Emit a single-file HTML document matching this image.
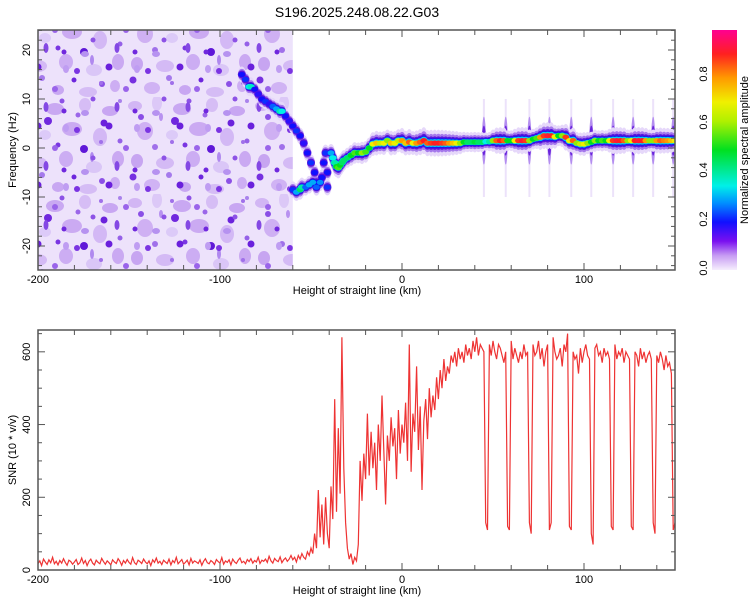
<!DOCTYPE html>
<html><head><meta charset="utf-8"><style>
body{margin:0;background:#fff;}
svg{display:block;font-family:"Liberation Sans",sans-serif;}
</style></head><body>
<svg id="chart" width="750" height="600" viewBox="0 0 750 600" xmlns="http://www.w3.org/2000/svg">
<defs>
<linearGradient id="cbar" x1="0" y1="1" x2="0" y2="0">
<stop offset="0" stop-color="#f6eefd"/><stop offset="0.06" stop-color="#c79cf3"/><stop offset="0.12" stop-color="#7a10f0"/>
<stop offset="0.2" stop-color="#1010ff"/><stop offset="0.28" stop-color="#0090ff"/><stop offset="0.35" stop-color="#00f0e8"/>
<stop offset="0.5" stop-color="#00e020"/><stop offset="0.62" stop-color="#b0f000"/><stop offset="0.7" stop-color="#f0f000"/>
<stop offset="0.8" stop-color="#ff9a00"/><stop offset="0.9" stop-color="#ff2020"/><stop offset="1" stop-color="#ff0090"/>
</linearGradient>
<pattern id="noise" width="127" height="97" patternUnits="userSpaceOnUse">
<rect width="127" height="97" fill="#ede2fb"/>
<ellipse cx="8" cy="9" rx="7" ry="5" fill="#d2b6f4"/><ellipse cx="30" cy="6" rx="5" ry="8" fill="#dcc8f7"/>
<ellipse cx="55" cy="12" rx="9" ry="6" fill="#c9a8f2"/><ellipse cx="85" cy="8" rx="6" ry="7" fill="#d6bdf5"/>
<ellipse cx="110" cy="14" rx="8" ry="5" fill="#c8a6f2"/><ellipse cx="18" cy="34" rx="8" ry="9" fill="#cfb0f3"/>
<ellipse cx="45" cy="38" rx="6" ry="5" fill="#dccaf8"/><ellipse cx="72" cy="32" rx="10" ry="7" fill="#cbaaf2"/>
<ellipse cx="100" cy="40" rx="7" ry="9" fill="#d3b8f5"/><ellipse cx="10" cy="64" rx="6" ry="7" fill="#c7a5f1"/>
<ellipse cx="38" cy="66" rx="9" ry="6" fill="#d4baf5"/><ellipse cx="66" cy="62" rx="7" ry="8" fill="#ccadf3"/>
<ellipse cx="94" cy="70" rx="8" ry="6" fill="#dac6f7"/><ellipse cx="118" cy="62" rx="6" ry="8" fill="#caa9f2"/>
<ellipse cx="25" cy="88" rx="8" ry="6" fill="#d0b3f4"/><ellipse cx="58" cy="90" rx="6" ry="5" fill="#c8a7f2"/>
<ellipse cx="88" cy="92" rx="9" ry="5" fill="#d5bcf5"/><ellipse cx="115" cy="86" rx="5" ry="6" fill="#cdaef3"/>
<circle cx="14" cy="20" r="3" fill="#8a4ee6"/><circle cx="48" cy="24" r="4" fill="#7028de"/>
<circle cx="78" cy="18" r="2.5" fill="#9b66e9"/><circle cx="104" cy="26" r="3.5" fill="#6b22dc"/>
<circle cx="28" cy="50" r="3" fill="#a070ea"/><circle cx="58" cy="48" r="2.5" fill="#7a36e2"/>
<circle cx="84" cy="52" r="4" fill="#5f18d8"/><circle cx="120" cy="44" r="2.5" fill="#9560e8"/>
<circle cx="6" cy="80" r="3.5" fill="#7630e0"/><circle cx="42" cy="78" r="3" fill="#a57aec"/>
<circle cx="74" cy="80" r="2.5" fill="#6d26dd"/><circle cx="102" cy="84" r="3" fill="#8c50e6"/>
<circle cx="62" cy="4" r="2.5" fill="#8d52e6"/><circle cx="120" cy="4" r="2" fill="#a982ec"/>
<ellipse cx="34" cy="20" rx="2" ry="4" fill="#b892f0"/><ellipse cx="92" cy="60" rx="2" ry="5" fill="#b089ef"/>
</pattern>
<pattern id="noise2" width="71" height="59" patternUnits="userSpaceOnUse">
<circle cx="6" cy="12" r="3" fill="#7b34e2"/><circle cx="22" cy="40" r="2.5" fill="#8d52e6"/>
<circle cx="38" cy="8" r="3.5" fill="#6a20dc"/><circle cx="55" cy="30" r="3" fill="#9a64ea"/>
<circle cx="64" cy="52" r="2.5" fill="#7028de"/><circle cx="30" cy="24" r="2" fill="#a070ea"/>
<ellipse cx="46" cy="48" rx="2.5" ry="5" fill="#8448e4"/><ellipse cx="14" cy="54" rx="4" ry="3" fill="#b692f0"/>
<ellipse cx="66" cy="10" rx="3" ry="4" fill="#bf9df2"/>
</pattern>
</defs>
<text x="357" y="17" font-size="14" text-anchor="middle" fill="#000">S196.2025.248.08.22.G03</text>

<g id="top"></g>
<g id="bottom"></g>

<g>
<rect x="712" y="30" width="25" height="240" fill="url(#cbar)"/>
<text transform="translate(707,268) rotate(-90)" font-size="11" text-anchor="middle">0.0</text>
<text transform="translate(707,219) rotate(-90)" font-size="11" text-anchor="middle">0.2</text>
<text transform="translate(707,170) rotate(-90)" font-size="11" text-anchor="middle">0.4</text>
<text transform="translate(707,122) rotate(-90)" font-size="11" text-anchor="middle">0.6</text>
<text transform="translate(707,74) rotate(-90)" font-size="11" text-anchor="middle">0.8</text>
<text transform="translate(748,150) rotate(-90)" font-size="11" text-anchor="middle">Normalized spectral amplitude</text>
</g>
</svg>
<script>
// ---- spectrogram data ----
const trackKm = [-88,-86,-84,-83,-81,-79,-77,-75,-73,-71,-69,-67,-66,-64,-62,-60,-58,-56,-54,-52,-50,-48,-47,
 -60,-58,-56,-55,-53,-51,-49,-47,-45,-44,-43,-42,-41,-41,
 -39,-38,-37,-36,-35,-34,-33,-32,-30,-28,-26,-24,-22,-20,-18,-16,-14,-12,-10,-8,-6,-4,-2,0,2,4,6,8,10,12,14,16,18,20,22,24,26,28,30,32,34,36,38,40,42,44,46,48,50,52,54,56,58,60,62,64,66,68,70,72,74,76,78,80,82,84,86,88,90,92,94,96,98,100,102,104,106,108,110,112,114,116,118,120,122,124,126,128,130,132,134,136,138,140,142,144,146,148,150];
const trackFreq = [15,14,12.5,12.5,12,11,10,9.5,9,8.5,8,7.5,7.5,6.5,5.5,4.5,3.5,2.5,1,-1,-3,-5,-7,
 -8.5,-9,-8.5,-8,-8,-7.5,-7,-8,-7,-6,-3,-1,-5,-8,
 -1,-2,-3,-3.8,-4,-3.5,-3,-2.5,-2,-1.5,-1,-1,-1,-0.8,0,0.8,1,1,1,1.5,1,1,1.5,1.5,1,1.2,1,1,1.2,1.5,1,1,1,1,1,1,1,1,1,1,1.2,1.2,1.2,1.2,1.2,1.2,1.3,1.3,1.5,1.5,1.5,1.5,1.5,1.5,1.5,1.5,1.5,1.5,1.5,1.8,2,2.2,2.5,2.5,2.5,2.3,2.5,2.5,2.2,1.5,1.5,1,0.8,0.8,1,1.2,1.5,1.5,1.5,1.5,1.5,1.5,1.5,1.5,1.5,1.5,1.5,1.5,1.5,1.5,1.5,1.5,1.5,1.5,1.5,1.5,1.5,1.5,1.5,1.5];
const trackAmp = [0.2,0.22,0.35,0.38,0.2,0.18,0.2,0.22,0.18,0.25,0.3,0.4,0.35,0.2,0.18,0.2,0.22,0.2,0.18,0.2,0.22,0.2,0.2,
 0.22,0.3,0.45,0.4,0.25,0.3,0.3,0.25,0.28,0.2,0.2,0.22,0.2,0.22,
 0.3,0.35,0.4,0.5,0.55,0.5,0.45,0.45,0.45,0.5,0.55,0.5,0.6,0.55,0.5,0.7,0.75,0.65,0.7,0.6,0.75,0.7,0.65,0.8,0.75,0.85,0.7,0.8,0.85,0.9,0.85,0.88,0.9,0.9,0.88,0.85,0.8,0.75,0.7,0.6,0.5,0.45,0.45,0.48,0.45,0.45,0.35,0.4,0.6,0.85,0.9,0.85,0.5,0.5,0.7,0.88,0.92,0.88,0.6,0.5,0.55,0.8,0.88,0.92,0.9,0.7,0.5,0.6,0.88,0.7,0.85,0.6,0.65,0.7,0.6,0.5,0.6,0.5,0.55,0.5,0.7,0.88,0.92,0.9,0.85,0.6,0.7,0.9,0.92,0.9,0.8,0.6,0.6,0.8,0.85,0.82,0.8,0.75,0.7];
const streakKm = [45,57,70,81,93,104,116,127,138,149];
const noiseEndKm = -60;
const xTickLabels = [-200,-100,0,100];
const freqTickLabels = [-20,-10,0,10,20];
// ---- SNR data (1 km steps from -200 to 150) ----
const snrStartKm = -200;
const snrValues = [
18,25,12,30,22,15,28,20,35,17,24,14,26,19,31,21,13,27,23,16,
22,29,15,20,33,18,26,12,24,30,19,14,27,21,17,32,23,16,25,20,
14,28,22,18,31,24,13,26,19,29,21,16,34,20,15,27,23,18,30,22,
17,25,12,28,21,33,19,24,15,27,22,18,30,14,26,20,35,17,23,29,
16,21,27,14,32,19,25,22,18,28,13,24,31,20,17,26,22,15,29,23,
19,34,16,25,21,28,14,30,22,18,27,33,20,24,17,29,23,31,19,26,
22,35,18,27,24,30,21,38,25,19,32,26,23,36,20,28,33,24,30,40,
28,35,22,40,30,45,35,30,50,40,60,45,100,60,220,90,180,70,200,100,60,230,140,470,160,390,210,640,280,130,
60,30,45,15,35,25,70,
300,190,320,250,430,260,380,280,350,220,400,300,480,330,
180,370,300,420,340,390,250,440,320,400,
350,460,300,620,270,430,380,560,330,450,220,410,470,360,500,420,480,440,530,470,
550,500,580,520,560,540,590,570,600,560,610,580,600,570,620,590,610,580,630,600,640,590,620,610,
600,130,110,620,590,630,600,580,620,610,590,570,600,120,110,630,580,610,590,570,600,580,620,590,600,130,100,620,590,600,630,580,610,560,600,620,110,130,640,600,580,590,610,560,620,600,650,120,110,600,580,590,540,610,570,600,620,590,580,100,70,610,620,590,600,570,610,590,600,580,120,110,620,580,600,590,610,570,600,590,580,120,110,600,590,560,610,580,600,570,590,600,580,130,100,590,570,600,580,550,590,560,570,540,110,130];
const snrTickLabels = [0,200,400,600];

const NS='http://www.w3.org/2000/svg';
function mk(tag, attrs, parent){const e=document.createElementNS(NS,tag);for(const k in attrs)e.setAttribute(k,attrs[k]);parent.appendChild(e);return e;}
const L=38,R=675;
const xs = km => L + (km+200)/350*(R-L);
const T1=30,B1=270, fy = f => 148 - f*4.9;
const T2=330,B2=570, sy = v => B2 - v/660*(B2-T2);

function cmap(a){
  const st=[[0,[246,238,253]],[0.06,[199,156,243]],[0.12,[122,16,240]],[0.2,[16,16,255]],[0.28,[0,144,255]],[0.35,[0,240,232]],[0.5,[0,224,32]],[0.62,[176,240,0]],[0.7,[240,240,0]],[0.8,[255,154,0]],[0.9,[255,32,32]],[1,[255,0,144]]];
  for(let i=1;i<st.length;i++){if(a<=st[i][0]){const t=(a-st[i-1][0])/(st[i][0]-st[i-1][0]);const c=st[i-1][1].map((v,j)=>Math.round(v+(st[i][1][j]-v)*t));return 'rgb('+c.join(',')+')';}}
  return 'rgb(255,0,144)';
}

// ---- Top panel ----
const topG=document.getElementById('top');
const clip=mk('clipPath',{id:'c1'},topG); mk('rect',{x:L,y:T1,width:R-L,height:B1-T1},clip);
const tg=mk('g',{'clip-path':'url(#c1)'},topG);
const noise=mk('rect',{x:L,y:T1,width:xs(noiseEndKm)-L,height:B1-T1,fill:'url(#noise)'},tg);


const noise2=mk('rect',{x:L,y:T1,width:xs(noiseEndKm)-L,height:B1-T1,fill:'url(#noise2)'},tg);


streakKm.forEach(k=>{
  const s1=mk('rect',{x:xs(k)-1,y:fy(10),width:2,height:fy(-10)-fy(10),fill:'#ece2fa'},tg);
  
  
  const s2=mk('ellipse',{cx:xs(k),cy:fy(1.5),rx:2,ry:24,fill:'#b48ef0'},tg);
  
  
  const s3=mk('ellipse',{cx:xs(k),cy:fy(1.5),rx:2,ry:15,fill:'#6a24dc'},tg);
  
  
});
const passes=[[13,0,'#e6d8fa'],[9,0,'#a578ec'],[6.5,0,'#5a14dc'],[5,0.25,'#1818f0'],[3.8,0.35,'#00d0f0']];
passes.forEach(p=>{
  trackKm.forEach((k,i)=>{
    if(trackAmp[i]<p[1])return;
    const ry=p[0]*(0.5+trackAmp[i]*0.6);
    const e=mk('ellipse',{cx:xs(k),cy:fy(trackFreq[i]),rx:4,ry:ry,fill:p[2]},tg);
    
    
  });
});
trackKm.forEach((k,i)=>{
  const e=mk('ellipse',{cx:xs(k),cy:fy(trackFreq[i]),rx:3.4,ry:2.6,fill:cmap(trackAmp[i])},tg);
  
  
});
function frame(T,B,g,name){
  const f=mk('rect',{x:L,y:T,width:R-L,height:B-T,fill:'none',stroke:'#555','stroke-width':1.5},g);
  
  
  for(let k=-200;k<=150;k+=20){
    const len=(k%100===0)?7:5;
    mk('line',{x1:xs(k),x2:xs(k),y1:B,y2:B-len,stroke:'#555'},g);
    mk('line',{x1:xs(k),x2:xs(k),y1:T,y2:T+len,stroke:'#555'},g);
  }
}
frame(T1,B1,topG,'spectrogram-frame');
for(let f=-24;f<=24;f+=2){
  const len=(f%10===0)?7:4;
  mk('line',{x1:L,x2:L+len,y1:fy(f),y2:fy(f),stroke:'#555'},topG);
  mk('line',{x1:R,x2:R-len,y1:fy(f),y2:fy(f),stroke:'#555'},topG);
}
freqTickLabels.forEach(f=>{
  const t=mk('text',{transform:'translate(30,'+fy(f)+') rotate(-90)','font-size':11,'text-anchor':'middle'},topG);
  t.textContent=f;
  
  
});
function xlabels(B,g){
  xTickLabels.forEach(k=>{
    const t=mk('text',{x:xs(k),y:B+13,'font-size':11,'text-anchor':'middle'},g);
    t.textContent=k;
    
    
  });
  const xt=mk('text',{x:357,y:B+24,'font-size':11,'text-anchor':'middle'},g);
  xt.textContent='Height of straight line (km)';
  
  
}
xlabels(B1,topG);
const yt1=mk('text',{transform:'translate(16,150) rotate(-90)','font-size':11,'text-anchor':'middle'},topG);
yt1.textContent='Frequency (Hz)';



// ---- Bottom panel ----
const botG=document.getElementById('bottom');
const clip2=mk('clipPath',{id:'c2'},botG); mk('rect',{x:L,y:T2,width:R-L,height:B2-T2},clip2);
const pts=snrValues.map((v,i)=>xs(snrStartKm+i).toFixed(1)+','+sy(v).toFixed(1)).join(' ');
const line=mk('polyline',{points:pts,fill:'none',stroke:'#ee3333','stroke-width':1.2,'clip-path':'url(#c2)'},botG);


frame(T2,B2,botG,'snr-frame');
for(let v=0;v<=650;v+=50){
  const len=(v%200===0)?7:4;
  mk('line',{x1:L,x2:L+len,y1:sy(v),y2:sy(v),stroke:'#555'},botG);
  mk('line',{x1:R,x2:R-len,y1:sy(v),y2:sy(v),stroke:'#555'},botG);
}
snrTickLabels.forEach(v=>{
  const t=mk('text',{transform:'translate(30,'+sy(v)+') rotate(-90)','font-size':11,'text-anchor':'middle'},botG);
  t.textContent=v;
  
  
});
xlabels(B2,botG);
const yt2=mk('text',{transform:'translate(16,450) rotate(-90)','font-size':11,'text-anchor':'middle'},botG);
yt2.textContent='SNR (10 * v/v)';


</script>
</body></html>
